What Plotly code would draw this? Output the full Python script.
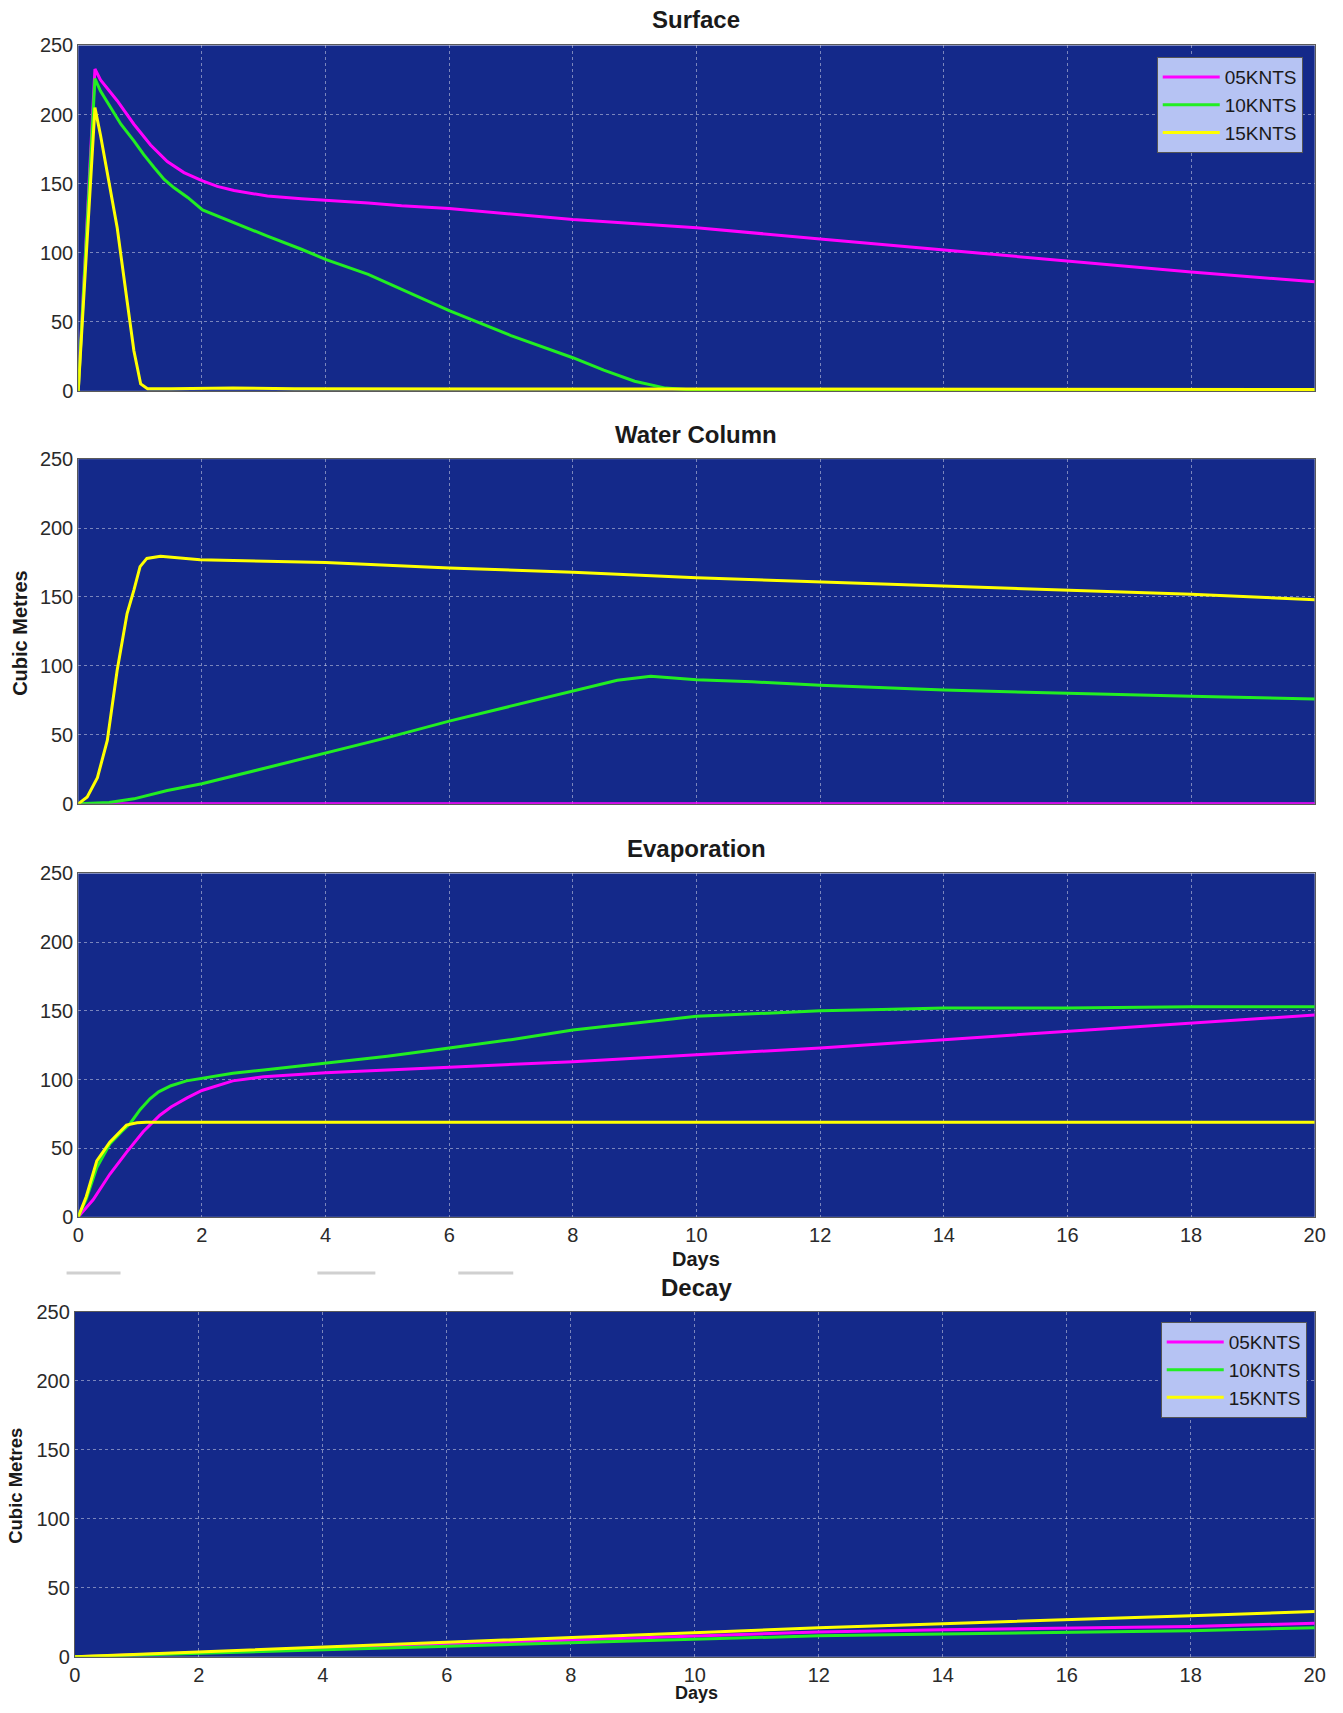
import plotly.graph_objects as go

# ---------------- data ----------------
x_ticks = [0, 2, 4, 6, 8, 10, 12, 14, 16, 18, 20]
y_ticks = [0, 50, 100, 150, 200, 250]
series_names = ["05KNTS", "10KNTS", "15KNTS"]
series_colors = ["#ff00ff", "#22ee22", "#ffff00"]
panel_titles = ["Surface", "Water Column", "Evaporation", "Decay"]

# Surface
t_surf_05 = [0, 0.27, 0.36, 0.63, 0.90, 1.17, 1.44, 1.71, 2.01, 2.25, 2.52, 2.79, 3.06, 3.61,
             4.01, 4.69, 5.23, 6, 8, 10, 12, 14, 16, 18, 20]
surf_05 = [0, 233, 225, 210, 193, 178, 166, 158, 152, 148, 145, 143, 141, 139,
           138, 136, 134, 132, 124, 118, 110, 102, 94, 86, 79]
t_surf_10 = [0, 0.27, 0.36, 0.52, 0.69, 0.90, 1.06, 1.23, 1.39, 1.55, 1.77, 2.01, 2.25, 2.52,
             2.79, 3.06, 3.61, 4.01, 4.69, 5.23, 6.0, 7.0, 8.0, 8.5, 9.0, 9.5, 10.0, 12, 14, 16, 18, 20]
surf_10 = [0, 226, 217, 205, 193, 181, 171, 161.5, 153, 147, 140, 131, 126.6, 121.7,
           117, 112, 102.5, 95, 84.4, 73.5, 58, 40, 24, 15, 7, 2, 0.5, 0.5, 0.5, 0.5, 0.5, 0.5]
t_surf_15 = [0, 0.27, 0.36, 0.63, 0.79, 0.9, 1.01, 1.12, 1.5, 2.5, 3.5, 5, 7, 9, 11, 13, 15, 17, 20]
surf_15 = [0, 205, 185, 118, 65, 29, 5, 1.5, 1.5, 2, 1.5, 1.5, 1, 1.5, 1, 1, 1, 1, 1]

# Water Column
t_wc_05 = [0, 20]
wc_05 = [0, 0]
t_wc_10 = [0, 0.5, 0.9, 1.44, 2.0, 3.0, 4, 5, 6, 7, 7.64, 8.0, 8.72, 9.26, 10, 10.9, 11.6, 12, 14, 16, 18, 20]
wc_10 = [0, 1, 3.6, 9.7, 14.5, 25.5, 37, 48, 60, 71, 78, 82, 89.6, 92.5, 90, 88.5, 87, 86, 82.5, 80, 78, 76]
t_wc_15 = [0, 0.145, 0.31, 0.47, 0.63, 0.79, 0.9, 1.0, 1.11, 1.33, 1.97, 4, 6, 8, 10, 12, 14, 16, 18, 20]
wc_15 = [0, 5, 19, 46, 97, 138, 155, 172, 178, 179.5, 177, 175, 171, 168, 164, 161, 158, 155, 152, 148]

# Evaporation
t_ev_05 = [0, 0.24, 0.51, 0.78, 1.05, 1.32, 1.5, 1.76, 2.0, 2.5, 3, 4, 6, 8, 10, 12, 14, 16, 18, 20]
ev_05 = [0, 12.4, 31, 47, 62, 74, 80, 86.6, 92, 99, 102, 105, 109, 113, 118, 123, 129, 135, 141, 147]
t_ev_10 = [0, 0.13, 0.3, 0.51, 0.7, 0.84, 1.0, 1.16, 1.3, 1.5, 1.75, 2, 2.5, 3, 4, 5, 6, 7, 8, 9, 10,
           11, 12, 13, 14, 16, 18, 20]
ev_10 = [0, 13, 36, 53, 62, 68, 78, 86, 91, 95.5, 99, 101, 104.5, 107, 112, 117, 123, 129, 136, 141, 146,
         148, 150, 151, 152, 152, 153, 153]
t_ev_15 = [0, 0.13, 0.3, 0.51, 0.78, 0.95, 1.1, 20]
ev_15 = [0, 14.8, 40.8, 54.4, 66.8, 68.5, 68.8, 68.8]

# Decay
t_dec = [0, 2, 4, 6, 8, 10, 12, 14, 16, 18, 20]
dec_05 = [0, 3, 6.5, 9.5, 12.5, 15.5, 18, 19.5, 20.5, 22, 24.3]
dec_10 = [0, 2.5, 5.5, 8, 10.5, 12.8, 15.2, 16.5, 17.6, 18.9, 21]
dec_15 = [0, 3.5, 7, 10.5, 14, 18, 21, 24, 26.7, 29.7, 32.8]

panels = [
    [(t_surf_05, surf_05), (t_surf_10, surf_10), (t_surf_15, surf_15)],
    [(t_wc_05, wc_05), (t_wc_10, wc_10), (t_wc_15, wc_15)],
    [(t_ev_05, ev_05), (t_ev_10, ev_10), (t_ev_15, ev_15)],
    [(t_dec, dec_05), (t_dec, dec_10), (t_dec, dec_15)],
]

# ---------------- layout geometry ----------------
W, H = 1343, 1713
# map a target page position (px) to the figure's own pixel frame
SC, BX, BY = 0.988, 5.4, 9.8


def fx(t):
    return (t - BX) / SC


def fy(t):
    return (t - BY) / SC


def px(t):
    return fx(t) / W


def py(t):
    return 1 - fy(t) / H


px_boxes = [  # x0, x1, ytop, ybottom  (target page pixels)
    (77.7, 1315.0, 44.3, 390.0),
    (77.7, 1315.0, 458.3, 803.3),
    (77.7, 1315.0, 873.0, 1216.7),
    (74.3, 1315.0, 1311.5, 1657.0),
]
FONT = "Liberation Sans, Arial, sans-serif"
BG = "#14298a"
GRID = "rgba(205,210,230,0.55)"
TICKFONT = dict(family=FONT, size=20, color="#2a2a2a")

fig = go.Figure()
for i, (ser, box) in enumerate(zip(panels, px_boxes)):
    n = i + 1
    xa = "x" if n == 1 else f"x{n}"
    ya = "y" if n == 1 else f"y{n}"
    legend_id = "legend" if n == 1 else ("legend2" if n == 4 else None)
    for j, (tx, ty) in enumerate(ser):
        fig.add_trace(go.Scatter(
            x=tx, y=ty, mode="lines", name=series_names[j],
            line=dict(color=series_colors[j], width=3),
            xaxis=xa, yaxis=ya,
            showlegend=legend_id is not None,
            legend=legend_id if legend_id else "legend",
        ))
    x0, x1, yt, yb = box
    xkey = "xaxis" if n == 1 else f"xaxis{n}"
    ykey = "yaxis" if n == 1 else f"yaxis{n}"
    fig.update_layout(**{
        xkey: dict(domain=[px(x0), px(x1)], anchor=ya, range=[0, 20],
                   tickvals=x_ticks, showticklabels=(n >= 3),
                   showgrid=True, gridcolor=GRID, griddash="dot", gridwidth=1,
                   zeroline=False, showline=True, mirror=True,
                   linecolor="#5a5a5a", linewidth=1, ticks="",
                   tickfont=TICKFONT),
        ykey: dict(domain=[py(yb), py(yt)], anchor=xa, range=[0, 250],
                   tickvals=y_ticks, showgrid=True, gridcolor=GRID,
                   griddash="dot", gridwidth=1, zeroline=False,
                   showline=True, mirror=True, linecolor="#5a5a5a",
                   linewidth=1, ticks="", tickfont=TICKFONT),
    })

annotations = []
title_y = [18.0, 433.8, 848.0, 1287.0]
for t, yy in zip(panel_titles, title_y):
    annotations.append(dict(text=f"<b>{t}</b>", x=px(696), y=py(yy),
                            xref="paper", yref="paper", showarrow=False,
                            xanchor="center", yanchor="middle",
                            font=dict(family=FONT, size=24, color="#1a1a1a")))
# "Days" under the Evaporation panel
annotations.append(dict(text="<b>Days</b>", x=px(696), y=py(1259.0),
                        xref="paper", yref="paper", showarrow=False,
                        xanchor="center", yanchor="middle",
                        font=dict(family=FONT, size=20, color="#1a1a1a")))
# "Days" under the Decay panel, sitting on the bottom edge of the figure
annotations.append(dict(text="<b>Days</b>", x=px(696), y=0, yshift=-3,
                        xref="paper", yref="paper", showarrow=False,
                        xanchor="center", yanchor="bottom",
                        font=dict(family=FONT, size=18, color="#1a1a1a")))
for xx, yy, fs in [(18.6, 632.0, 20), (15.3, 1486.0, 18.5)]:
    annotations.append(dict(text="<b>Cubic Metres</b>", x=px(xx), y=py(yy),
                            xref="paper", yref="paper", showarrow=False,
                            xanchor="center", yanchor="middle", textangle=-90,
                            font=dict(family=FONT, size=fs, color="#1a1a1a")))

shapes = []
for a, b in [(66, 120), (317, 375), (458, 513)]:
    shapes.append(dict(type="line", xref="paper", yref="paper",
                       x0=px(a), x1=px(b), y0=py(1273), y1=py(1273),
                       line=dict(color="#d0d0d0", width=3)))

legend_style = dict(bgcolor="#b6c3f3", bordercolor="#555555", borderwidth=1,
                    font=dict(family=FONT, size=19, color="#1a1a1a"),
                    xanchor="right", yanchor="top", itemwidth=57,
                    tracegroupgap=0)

fig.update_layout(
    width=W, height=H, margin=dict(l=0, r=0, t=0, b=0),
    paper_bgcolor="white", plot_bgcolor=BG,
    legend=dict(x=px(1303), y=py(56), **legend_style),
    legend2=dict(x=px(1307), y=py(1322), **legend_style),
    annotations=annotations, shapes=shapes,
)

fig.write_html("out.html")
